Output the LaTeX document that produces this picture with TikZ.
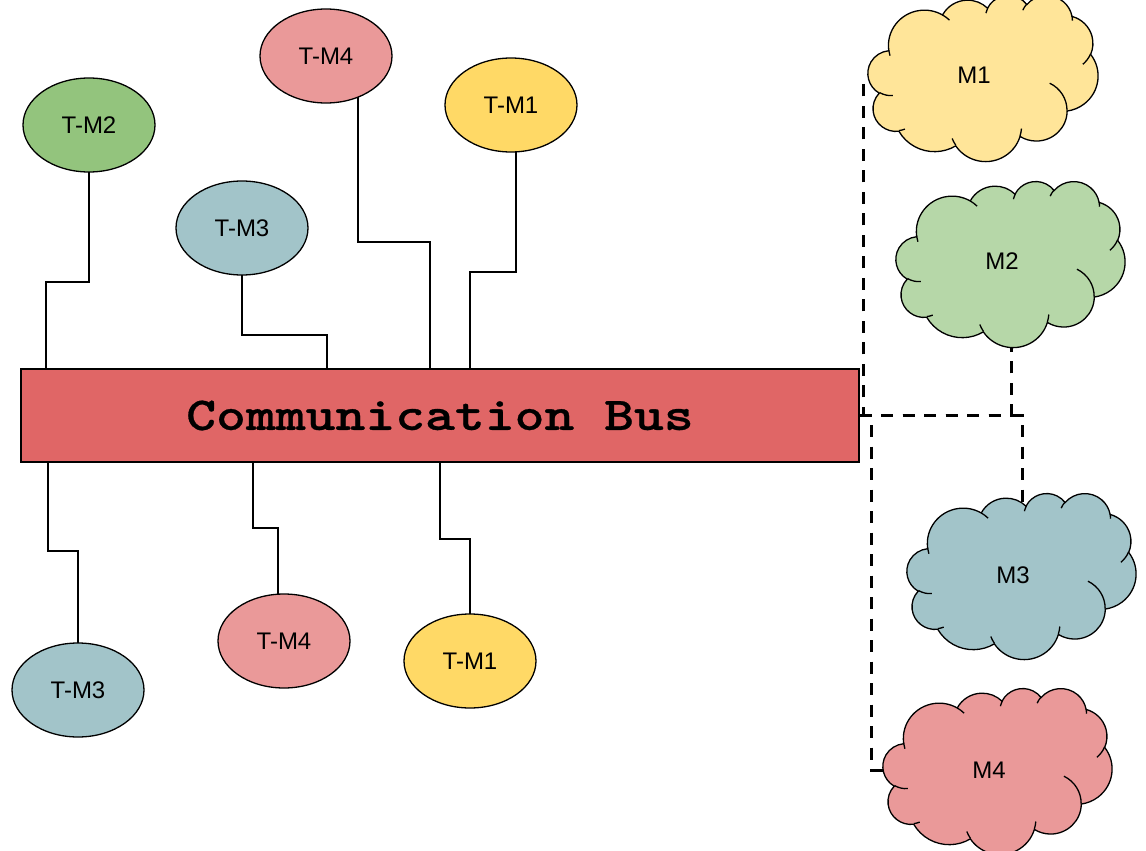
\documentclass[tikz,border=0pt]{standalone}
\usepackage{fontspec}
\setmainfont{Liberation Sans}
\newfontfamily\busfont{lmmonolt10-bold.otf}[FakeStretch=1.21,FakeBold=0.6]
\usetikzlibrary{calc,backgrounds,shapes.geometric}
\definecolor{cgreen}{HTML}{93C47D}
\definecolor{cpink}{HTML}{EA9999}
\definecolor{cyellow}{HTML}{FFD966}
\definecolor{cteal}{HTML}{A2C4C9}
\definecolor{cred}{HTML}{E06666}
\definecolor{cyellowl}{HTML}{FFE599}
\definecolor{cgreenl}{HTML}{B6D7A8}
\tikzset{
  ooarc/.style n args={4}{insert path={arc[x radius=#1,y radius=#2,start angle={atan2(#1*sin(#3),#2*cos(#3))},delta angle={mod(atan2(#1*sin(#3+#4),#2*cos(#3+#4))-atan2(#1*sin(#3),#2*cos(#3))+720,360)}]}},
  tnode/.style={ellipse,draw=black,line width=1.3pt,minimum width=132,minimum height=94,inner sep=0pt,font=\fontsize{24}{28}\selectfont},
  clabel/.style={inner sep=0pt,font=\fontsize{24}{28}\selectfont},
  busnode/.style={rectangle,draw=black,fill=cred,line width=1.3pt,minimum width=838,minimum height=93,inner sep=0pt,font=\busfont\fontsize{47}{54}\selectfont},
  conn/.style={draw=black,line width=1.3pt},
  dconn/.style={draw=black,line width=3pt,dash pattern=on 12pt off 9.5pt}
}
\newcommand\drawcloud[5]{%
  \begin{scope}[shift={(#1,#2)},xscale=#3/43.2,yscale=#4/43.2]
    \filldraw[fill=#5,draw=black,line width=1.3pt] (3.9,14.37)
      [ooarc={6.753}{9.19}{-190.4875}{123.7805}]
      [ooarc={5.333}{7.267}{-144.1024}{89.9452}]
      [ooarc={4.365}{5.945}{-145.8079}{99.7230}]
      [ooarc={4.857}{6.595}{-130.9861}{117.2417}]
      [ooarc={5.333}{7.273}{-78.7089}{109.0269}]
      [ooarc={6.775}{9.220}{-46.2673}{130.2690}]
      [ooarc={5.785}{7.867}{0.6250}{114.0333}]
      [ooarc={6.752}{9.215}{22.4516}{115.1726}]
      [ooarc={7.720}{10.543}{66.2426}{75.7110}]
      [ooarc={4.360}{5.918}{-274.9421}{146.7356}]
      [ooarc={4.345}{5.945}{-246.8285}{152.5189}] -- cycle;
    \draw[line width=1.3pt]
      (4.693,26.177) [ooarc={4.345}{5.945}{86.742}{26.4295}]
      (6.928,34.899) [ooarc={4.360}{5.918}{73.6105}{11.4475}]
      (16.478,39.090) [ooarc={6.752}{9.215}{137.6242}{14.0811}]
      (28.827,34.751) [ooarc={6.752}{9.215}{6.4533}{15.9984}]
      (34.129,22.954) [ooarc={5.785}{7.867}{-70.2924}{70.9174}]
      (41.798,15.354) [ooarc={5.333}{7.273}{30.3180}{27.7515}]
      (38.324,5.426) [ooarc={4.857}{6.595}{-13.7443}{14.8589}]
      (29.078,3.952) [ooarc={4.857}{6.595}{-149.1815}{18.1954}]
      (22.141,4.720) [ooarc={4.365}{5.945}{-163.4943}{17.6864}]
      (14.000,5.192) [ooarc={6.753}{9.190}{-66.7070}{12.3194}]
      (4.127,15.789) [ooarc={6.753}{9.190}{157.6544}{11.8582}];
  \end{scope}}
\begin{document}
\begin{tikzpicture}[x=1pt,y=-1pt]
\useasboundingbox (0,0) rectangle (1146,851);
% clouds
\drawcloud{868}{-5}{230}{166}{cyellowl}
\drawcloud{896}{181}{229}{166}{cgreenl}
\drawcloud{907}{493}{229}{166}{cteal}
\drawcloud{883}{688}{229}{166}{cpink}
\node[clabel] (M1) at (974,75) {M1};
\node[clabel] (M2) at (1002,261) {M2};
\node[clabel] (M3) at (1013,575) {M3};
\node[clabel] (M4) at (989,770) {M4};
% ellipses
\node[tnode,fill=cgreen] (t2) at (89,125) {T-M2};
\node[tnode,fill=cpink] (t4) at (326,56) {T-M4};
\node[tnode,fill=cyellow] (t1) at (511,105) {T-M1};
\node[tnode,fill=cteal] (t3) at (242,228) {T-M3};
\node[tnode,fill=cteal] (b3) at (78,690) {T-M3};
\node[tnode,fill=cpink] (b4) at (284,641) {T-M4};
\node[tnode,fill=cyellow] (b1) at (470,661) {T-M1};
% bus
\node[busnode] (bus) at (440,415.5) {Communication Bus};
% bend points
\coordinate (k1) at (46,282);
\coordinate (k2) at (327,335);
\coordinate (k3) at (430,242);
\coordinate (k4) at (470,272);
\coordinate (k5) at (48,551);
\coordinate (k6) at (253,528);
\coordinate (k7) at (440,539);
\coordinate (m1in) at (863,80);
\coordinate (m2in) at (1011,342);
\coordinate (m3in) at (1022,510);
\coordinate (m4in) at (892,770);
\begin{pgfonlayer}{background}
  \draw[conn] (t2.center) |- (k1) -- (k1 |- bus.north);
  \draw[conn] (t3.center) |- (k2) -- (k2 |- bus.north);
  \draw[conn] ($(t4.center)+(32,0)$) |- (k3) -- (k3 |- bus.north);
  \draw[conn] ($(t1.center)+(5,0)$) |- (k4) -- (k4 |- bus.north);
  \draw[conn] (k5 |- bus.south) -- (k5) -| (b3.center);
  \draw[conn] (k6 |- bus.south) -- (k6) -| ($(b4.center)+(-6,0)$);
  \draw[conn] (k7 |- bus.south) -- (k7) -| (b1.center);
  \draw[dconn] (bus.east) -| (m1in);
  \draw[dconn] (bus.east) -| (m2in);
  \draw[dconn] (bus.east) -| (m3in);
  \draw[dconn] (bus.east) -- ++(12,0) |- (m4in);
\end{pgfonlayer}
\end{tikzpicture}
\end{document}
